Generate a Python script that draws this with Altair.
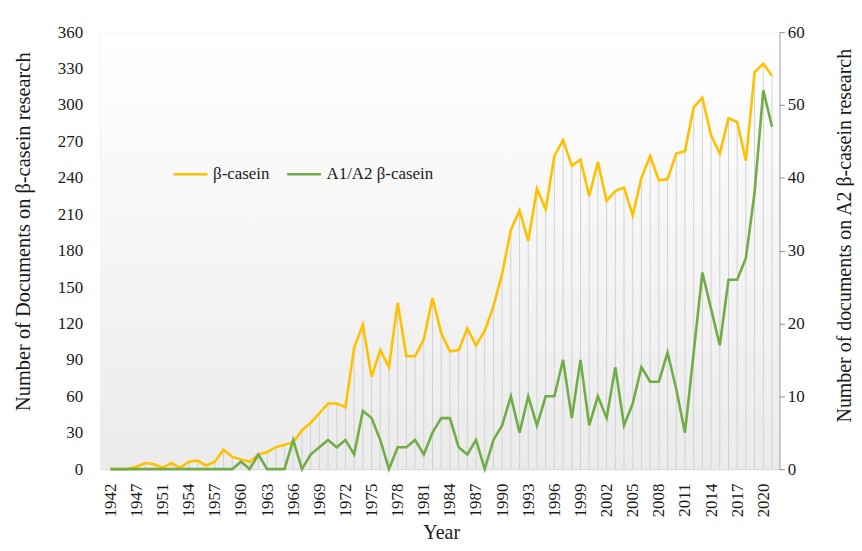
import altair as alt
import pandas as pd

# Category axis (years with documents)
years = ["1942", "1945", "1946", "1947", "1949", "1950", "1951", "1952", "1953", "1954",
         "1955", "1956", "1957", "1958", "1959", "1960", "1961", "1962", "1963", "1964",
         "1965", "1966", "1967", "1968", "1969", "1970", "1971", "1972", "1973", "1974",
         "1975", "1976", "1977", "1978", "1979", "1980", "1981", "1982", "1983", "1984",
         "1985", "1986", "1987", "1988", "1989", "1990", "1991", "1992", "1993", "1994",
         "1995", "1996", "1997", "1998", "1999", "2000", "2001", "2002", "2003", "2004",
         "2005", "2006", "2007", "2008", "2009", "2010", "2011", "2012", "2013", "2014",
         "2015", "2016", "2017", "2018", "2019", "2020", "2021"]

# Number of documents on beta-casein research (left axis)
beta_casein = [0, 0, 0, 2, 5, 4, 1, 5, 1, 6,
               7, 3, 6, 16, 10, 8, 6, 12, 14, 18,
               20, 22, 32, 38, 46, 54, 54, 51, 100, 119,
               76, 98, 84, 137, 93, 93, 107, 141, 112, 97,
               98, 116, 102, 114, 134, 161, 197, 213, 188, 231,
               214, 258, 271, 250, 255, 225, 253, 221, 229, 232,
               209, 240, 258, 238, 239, 260, 262, 298, 306, 275,
               260, 289, 286, 254, 327, 334, 324]

# Number of documents on A1/A2 beta-casein research (right axis)
a1a2_beta_casein = [0, 0, 0, 0, 0, 0, 0, 0, 0, 0,
                    0, 0, 0, 0, 0, 1, 0, 2, 0, 0,
                    0, 4, 0, 2, 3, 4, 3, 4, 2, 8,
                    7, 4, 0, 3, 3, 4, 2, 5, 7, 7,
                    3, 2, 4, 0, 4, 6, 10, 5, 10, 6,
                    10, 10, 15, 7, 15, 6, 10, 7, 14, 6,
                    9, 14, 12, 12, 16, 11, 5, 16, 27, 22,
                    17, 26, 26, 29, 38, 52, 47]

label_years = years[::3]
left_ticks = [0, 30, 60, 90, 120, 150, 180, 210, 240, 270, 300, 330, 360]
right_ticks = [0, 10, 20, 30, 40, 50, 60]
series_names = ["β-casein", "A1/A2 β-casein"]
series_colors = ["#FFC000", "#70AD47"]

df = pd.DataFrame({"year": years, "beta": beta_casein, "a1a2": a1a2_beta_casein})

W, H = 682, 439
FONT = "Liberation Serif"
TXT = "#1a1a1a"

xenc = alt.X(
    "year:O", sort=years,
    scale=alt.Scale(type="point", range=[5.5, 679]),
    axis=alt.Axis(values=label_years, labelAngle=270, title="Year",
                  domain=True, domainColor="#d9d9d9", ticks=False, grid=False,
                  labelFont=FONT, labelFontSize=17, labelColor=TXT, labelPadding=14,
                  titleFont=FONT, titleFontSize=20, titleFontWeight="normal",
                  titleColor=TXT, titlePadding=6),
)

left_scale = alt.Scale(domain=[0, 360], nice=False)
left_axis = alt.Axis(values=left_ticks, domain=False, ticks=False, grid=False,
                     labelFont=FONT, labelFontSize=17, labelColor=TXT, labelPadding=18,
                     title="Number of Documents on β-casein research",
                     titleFont=FONT, titleFontSize=20.5, titleFontWeight="normal",
                     titleColor=TXT, titleAngle=270, titleX=-77, titleY=200,
                     titleAlign="center", titleBaseline="middle")

right_scale = alt.Scale(domain=[0, 60], nice=False)
right_axis = alt.Axis(orient="right", values=right_ticks, domain=True,
                      domainColor="#8c8c8c", ticks=True, tickColor="#8c8c8c", tickSize=5,
                      grid=False, labelFont=FONT, labelFontSize=17, labelColor=TXT,
                      labelPadding=3,
                      title="Number of documents on A2 β-casein research",
                      titleFont=FONT, titleFontSize=20, titleFontWeight="normal",
                      titleColor=TXT, titleAngle=270, titleX=65, titleY=204,
                      titleAlign="center", titleBaseline="middle")

color_scale = alt.Scale(domain=series_names, range=series_colors)
legend = alt.Legend(orient="none", legendX=72, legendY=124, direction="horizontal",
                    title=None, symbolType="stroke", symbolSize=1150,
                    symbolStrokeWidth=2.5, labelFont=FONT, labelFontSize=17,
                    labelColor=TXT, columnPadding=12, labelOffset=4, padding=0)

bg = alt.Chart(pd.DataFrame({"k": [0]})).mark_rect(
    color=alt.LinearGradient(
        gradient="linear",
        stops=[alt.GradientStop(offset=0, color="#ffffff"),
               alt.GradientStop(offset=1, color="#ebebeb")],
        x1=0, x2=0, y1=0, y2=1),
).encode(x=alt.value(0), x2=alt.value(W), y=alt.value(0), y2=alt.value(H))

drops = alt.Chart(df).mark_rule(color="#d2d2d2", strokeWidth=1).encode(
    x=xenc,
    y=alt.Y("beta:Q", scale=left_scale, axis=left_axis),
    y2=alt.datum(0),
)

yellow = alt.Chart(df).transform_calculate(series='"β-casein"').mark_line(
    strokeWidth=2.6).encode(
    x=xenc,
    y=alt.Y("beta:Q", scale=left_scale, axis=left_axis),
    color=alt.Color("series:N", scale=color_scale, legend=legend),
)

green = alt.Chart(df).transform_calculate(series='"A1/A2 β-casein"').mark_line(
    strokeWidth=2.6).encode(
    x=xenc,
    y=alt.Y("a1a2:Q", scale=right_scale, axis=right_axis),
    color=alt.Color("series:N", scale=color_scale, legend=legend),
)

left_layer = alt.layer(bg, drops, yellow)

chart = alt.layer(left_layer, green).resolve_scale(y="independent").properties(
    width=W, height=H,
    padding={"left": 93, "top": 23, "right": 75, "bottom": 73},
    autosize=alt.AutoSizeParams(type="none"),
).configure_view(stroke=None).configure(background="#ffffff")

chart.save("out.html", embed_options={"renderer": "svg", "actions": False})
